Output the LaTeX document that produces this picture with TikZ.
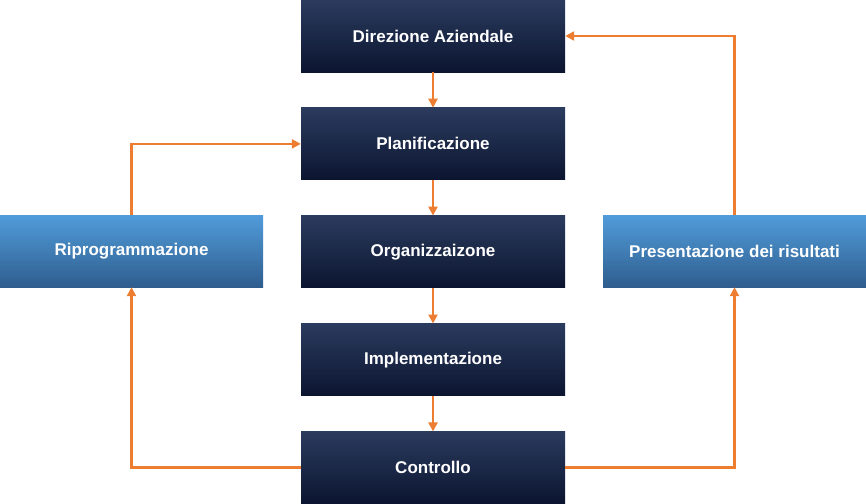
\documentclass[tikz,border=0pt]{standalone}
\usepackage{fontspec}
\setmainfont{Liberation Sans}
\usepackage[HTML]{xcolor}
\usetikzlibrary{positioning, arrows.meta}
\definecolor{navytop}{HTML}{2B3B5E}
\definecolor{navybot}{HTML}{0B1530}
\definecolor{bluetop}{HTML}{519CDB}
\definecolor{bluebot}{HTML}{2F5D8E}
\definecolor{arroworange}{HTML}{ED7D31}
\begin{document}
\begin{tikzpicture}[x=1pt,y=-1pt,
  navybox/.style={top color=navytop,bottom color=navybot,minimum width=264pt,minimum height=72pt,text=white,font=\bfseries\fontsize{17}{20}\selectfont,inner sep=0pt},
  bluebox/.style={navybox,top color=bluetop,bottom color=bluebot,minimum width=263pt},
  flow/.style={draw=arroworange,line width=2.5pt,-{Triangle[length=9pt,width=9pt]}}]
\useasboundingbox (0,0) rectangle (866,503);
\node[navybox] (dir) at (433,36) {Direzione Aziendale};
\node[navybox,below=35.5pt of dir] (pian) {Planificazione};
\node[navybox,below=35.5pt of pian] (org) {Organizzaizone};
\node[navybox,below=35.5pt of org] (impl) {Implementazione};
\node[navybox,below=35.5pt of impl] (ctrl) {Controllo};
\node[bluebox] (rip) at (131.5,251) {Riprogrammazione};
\node[bluebox] (pres) at (734.5,251) {Presentazione dei risultati};
\draw[flow] (dir) -- (pian);
\draw[flow] (pian) -- (org);
\draw[flow] (org) -- (impl);
\draw[flow] (impl) -- (ctrl);
\draw[flow] (rip.north) |- (pian.west);
\draw[flow] (pres.north) |- (dir.east);
\draw[flow] (ctrl.west) -| (rip.south);
\draw[flow] (ctrl.east) -| (pres.south);
\end{tikzpicture}
\end{document}
